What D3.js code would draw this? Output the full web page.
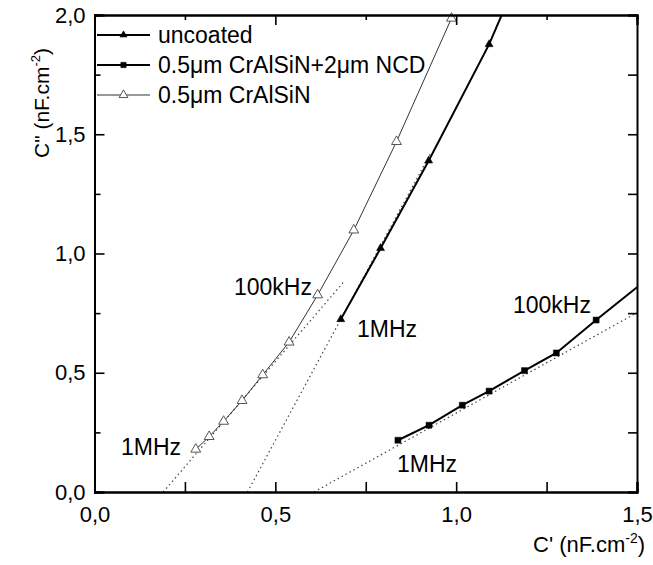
<!DOCTYPE html>
<html lang="en">
<head>
<meta charset="UTF-8">
<title>Cole-Cole plot</title>
<script src="https://d3js.org/d3.v7.min.js"></script>
<style>
    body { margin: 0; background: #fff; }
    text { font-family: "Liberation Sans", Arial, sans-serif; fill: #000; }
    .axis path, .axis line { stroke: #000; }
</style>
</head>
<body>
<script>

    // data: [C', C'']
    var uncoated = [[0.681, 0.724], [0.791, 1.022], [0.924, 1.389], [1.091, 1.877], [1.16, 2.12]];
    var ncd = [[0.839, 0.217], [0.925, 0.280], [1.017, 0.364], [1.091, 0.423], [1.189, 0.509],
               [1.277, 0.583], [1.387, 0.721], [1.53, 0.895]];
    var crAlSiN = [[0.280, 0.179], [0.317, 0.232], [0.357, 0.296], [0.408, 0.383], [0.465, 0.491],
                   [0.538, 0.628], [0.617, 0.826], [0.717, 1.098], [0.835, 1.469], [0.987, 1.986]];

    // dotted tangent lines (start, end)
    var fitUncoated = [[0.423, 0.0], [0.93, 1.423]];
    var fitNcd = [[0.607, 0.0], [1.5, 0.752]];
    var fitCrAlSiN = [[0.19, 0.0], [0.692, 0.886]];

    var seriesNames = ["uncoated", "0.5\u03bcm CrAlSiN+2\u03bcm NCD", "0.5\u03bcm CrAlSiN"];
    var xTicks = [0, 0.5, 1.0, 1.5];
    var yTicks = [0, 0.5, 1.0, 1.5, 2.0];
    var xMinor = [0.25, 0.75, 1.25];
    var yMinor = [0.25, 0.75, 1.25, 1.75];

    var annotations = [
        { text: "100kHz", x: 234, y: 295 },
        { text: "1MHz", x: 357, y: 337 },
        { text: "1MHz", x: 121, y: 455 },
        { text: "100kHz", x: 513, y: 313 },
        { text: "1MHz", x: 397, y: 472 }
    ];

    var W = 653, H = 565;
    var margin = { left: 94.5, top: 15, right: 16, bottom: 73 };
    var w = W - margin.left - margin.right;
    var h = H - margin.top - margin.bottom;

    var svg = d3.select("body").append("svg")
        .attr("width", W)
        .attr("height", H);

    var g = svg.append("g")
        .attr("transform", "translate(" + margin.left + "," + margin.top + ")");

    var x = d3.scaleLinear().domain([0, 1.5]).range([0, w]);
    var y = d3.scaleLinear().domain([0, 2.0]).range([h, 0]);

    var fmt = function (d) { return d3.format(".1f")(d).replace(".", ","); };

    g.append("clipPath").attr("id", "clip")
        .append("rect").attr("width", w).attr("height", h);

    var line = d3.line()
        .x(function (d) { return x(d[0]); })
        .y(function (d) { return y(d[1]); });

    var plot = g.append("g").attr("clip-path", "url(#clip)");

    // tangent lines
    [fitUncoated, fitNcd, fitCrAlSiN].forEach(function (f) {
        plot.append("path")
            .attr("d", line(f))
            .attr("fill", "none")
            .attr("stroke", "#444")
            .attr("stroke-width", 1.2)
            .attr("stroke-dasharray", "1.5,3");
    });

    var series = [
        { data: uncoated, width: 2, stroke: "#000", sym: d3.symbolTriangle, size: 28, fill: "#000" },
        { data: ncd, width: 2, stroke: "#000", sym: d3.symbolSquare, size: 36, fill: "#000" },
        { data: crAlSiN, width: 1, stroke: "#333", sym: d3.symbolTriangle, size: 42, fill: "#fff" }
    ];

    series.forEach(function (s) {
        plot.append("path")
            .attr("d", line(s.data))
            .attr("fill", "none")
            .attr("stroke", s.stroke)
            .attr("stroke-width", s.width);

        g.selectAll(null)
            .data(s.data.filter(function (d) { return d[0] <= 1.5 && d[1] <= 2.0; }))
            .enter()
            .append("path")
            .attr("d", d3.symbol().type(s.sym).size(s.size))
            .attr("transform", function (d) { return "translate(" + x(d[0]) + "," + y(d[1]) + ")"; })
            .attr("fill", s.fill)
            .attr("stroke", s.fill === "#fff" ? "#444" : "#000")
            .attr("stroke-width", s.fill === "#fff" ? 0.9 : 0.5);
    });

    // axes (ticks inward, mirrored on top / right)
    function styleAxis(sel) {
        sel.attr("class", "axis");
        sel.select(".domain").attr("stroke-width", 2);
        sel.selectAll(".tick line").attr("stroke-width", 1.6);
        sel.selectAll("text").attr("font-size", "22px").attr("font-family", "Liberation Sans, Arial, sans-serif").attr("fill", "#000");
    }

    g.append("g").attr("transform", "translate(0," + h + ")")
        .call(d3.axisBottom(x).tickValues(xTicks).tickSize(-10).tickPadding(14).tickFormat(fmt))
        .call(styleAxis);
    g.append("g").attr("transform", "translate(0," + h + ")")
        .call(d3.axisBottom(x).tickValues(xMinor).tickSize(-10).tickFormat(""))
        .call(styleAxis);

    g.append("g")
        .call(d3.axisLeft(y).tickValues(yTicks).tickSize(-10).tickPadding(9).tickFormat(fmt))
        .call(styleAxis);
    g.append("g")
        .call(d3.axisLeft(y).tickValues(yMinor).tickSize(-6).tickFormat(""))
        .call(styleAxis);

    g.append("g")
        .call(d3.axisTop(x).tickValues(xTicks).tickSize(-10).tickFormat(""))
        .call(styleAxis);
    g.append("g")
        .call(d3.axisTop(x).tickValues(xMinor).tickSize(-5).tickFormat(""))
        .call(styleAxis);

    g.append("g").attr("transform", "translate(" + w + ",0)")
        .call(d3.axisRight(y).tickValues(yTicks.concat(yMinor)).tickSize(-9).tickFormat(""))
        .call(styleAxis);

    // axis titles
    var xt = svg.append("text")
        .attr("x", 645)
        .attr("y", 552)
        .attr("text-anchor", "end")
        .attr("font-size", "22px");
    xt.append("tspan").text("C' (nF.cm");
    xt.append("tspan").attr("dy", -9).attr("font-size", "14px").text("-2");
    xt.append("tspan").attr("dy", 9).text(")");

    var yt = svg.append("text")
        .attr("transform", "translate(49,103) rotate(-90)")
        .attr("text-anchor", "middle")
        .attr("font-size", "21px");
    yt.append("tspan").text("C\" (nF.cm");
    yt.append("tspan").attr("dy", -9).attr("font-size", "13px").text("-2");
    yt.append("tspan").attr("dy", 9).text(")");

    // legend
    var legend = svg.append("g").attr("transform", "translate(97,35)");
    series.forEach(function (s, i) {
        var row = legend.append("g").attr("transform", "translate(0," + i * 30 + ")");
        row.append("line")
            .attr("x1", 0).attr("x2", 53)
            .attr("stroke", s.stroke)
            .attr("stroke-width", s.width);
        row.append("path")
            .attr("d", d3.symbol().type(s.sym).size(s.size * 0.8))
            .attr("transform", "translate(26.5,0)")
            .attr("fill", s.fill)
            .attr("stroke", s.fill === "#fff" ? "#444" : "#000")
            .attr("stroke-width", s.fill === "#fff" ? 0.9 : 0.5);
        row.append("text")
            .attr("x", 61)
            .attr("y", 8)
            .attr("font-size", "23px")
            .text(seriesNames[i]);
    });

    // frequency labels
    svg.selectAll(".ann")
        .data(annotations)
        .enter()
        .append("text")
        .attr("class", "ann")
        .attr("x", function (d) { return d.x; })
        .attr("y", function (d) { return d.y; })
        .attr("font-size", "23px")
        .text(function (d) { return d.text; });

</script>
</body>
</html>
